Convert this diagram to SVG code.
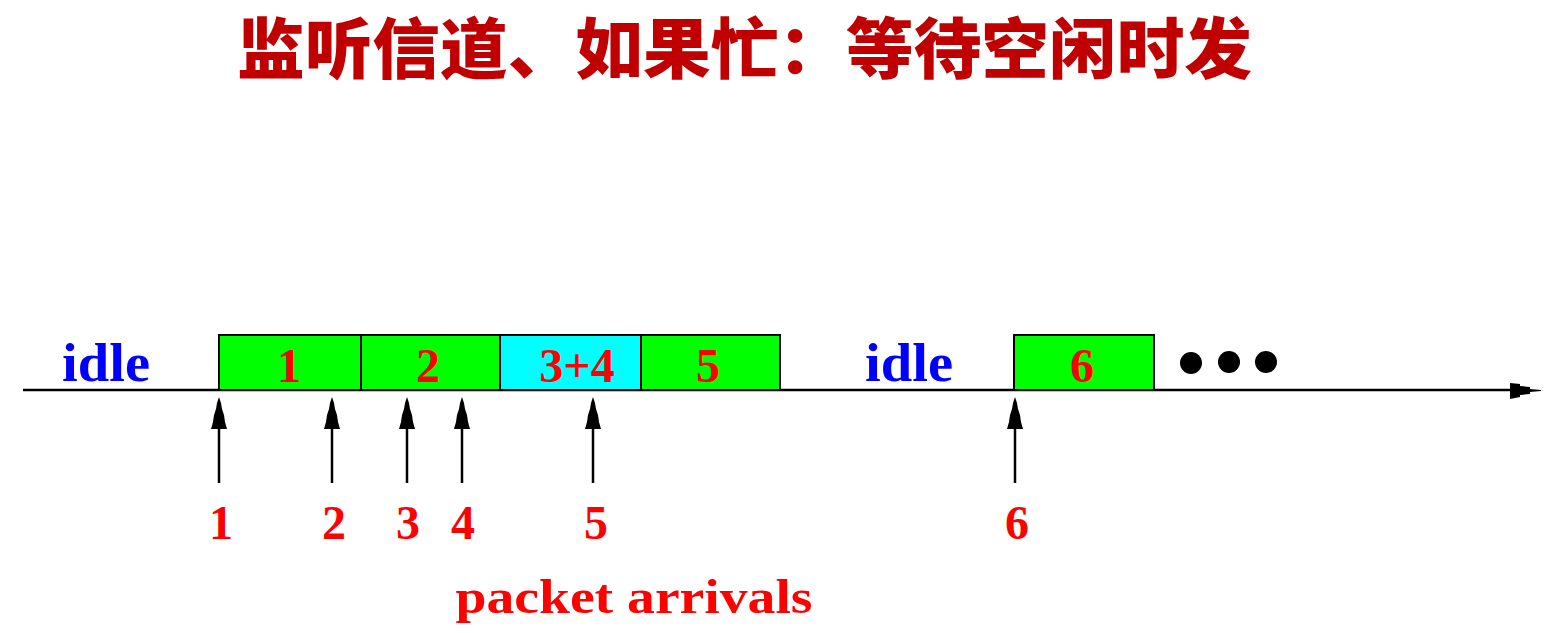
<svg xmlns="http://www.w3.org/2000/svg" width="1549" height="633" viewBox="0 0 1549 633">
<style>
.title{font-family:"Noto Sans CJK SC","Noto Sans",sans-serif;font-weight:900;fill:#C00000;font-size:66px}
.lbl{font-family:"Liberation Serif",serif;font-weight:bold;fill:#FF0000;font-size:48px;text-anchor:middle}
.idle{font-family:"Liberation Serif",serif;font-weight:bold;fill:#0000FF;font-size:55px}
.box{stroke:#000;stroke-width:2}
.g{fill:#00FF00}
.c{fill:#00FFFF}
.stem{stroke:#000;stroke-width:2.5;fill:none}
</style>
<defs>
<path id="ah" d="M0,0 L2,6 L3,12 L5,18 L6,25 L8,32 L-8,32 L-6,25 L-5,18 L-3,12 L-2,6 Z" fill="#000"/>
</defs>
<g id="title">
<text class="title" x="237" y="73" textLength="1015" lengthAdjust="spacingAndGlyphs">监听信道、如果忙：等待空闲时发</text>
</g>
<g id="connectors">
<line class="stem" x1="23" y1="390" x2="1512" y2="390"/>
<path d="M1510,383 L1520,384 L1520,386 L1530,387 L1530,389 L1541,390 L1541,391 L1530,392 L1530,394 L1520,395 L1520,397 L1510,399 Z" fill="#000"/>
<g id="arrow1"><line class="stem" x1="219" y1="425" x2="219" y2="483"/><use href="#ah" x="219" y="397"/></g>
<g id="arrow2"><line class="stem" x1="332" y1="425" x2="332" y2="483"/><use href="#ah" x="332" y="397"/></g>
<g id="arrow3"><line class="stem" x1="407" y1="425" x2="407" y2="483"/><use href="#ah" x="407" y="397"/></g>
<g id="arrow4"><line class="stem" x1="462" y1="425" x2="462" y2="483"/><use href="#ah" x="462" y="397"/></g>
<g id="arrow5"><line class="stem" x1="593" y1="425" x2="593" y2="483"/><use href="#ah" x="593" y="397"/></g>
<g id="arrow6"><line class="stem" x1="1015" y1="425" x2="1015" y2="483"/><use href="#ah" x="1015" y="397"/></g>
</g>
<g id="idle1"><text class="idle" x="62" y="381" textLength="88" lengthAdjust="spacingAndGlyphs">idle</text></g>
<g id="idle2"><text class="idle" x="865" y="381" textLength="88" lengthAdjust="spacingAndGlyphs">idle</text></g>
<g id="box1"><rect class="box g" x="219" y="335" width="142" height="55"/><text class="lbl" x="289" y="382">1</text></g>
<g id="box2"><rect class="box g" x="361" y="335" width="139" height="55"/><text class="lbl" x="428" y="382">2</text></g>
<g id="box34"><rect class="box c" x="500" y="335" width="141" height="55"/><text class="lbl" x="577" y="382">3+4</text></g>
<g id="box5"><rect class="box g" x="641" y="335" width="139" height="55"/><text class="lbl" x="708" y="382">5</text></g>
<g id="box6"><rect class="box g" x="1014" y="335" width="140" height="55"/><text class="lbl" x="1082" y="382">6</text></g>
<g id="dots">
<circle cx="1191" cy="363" r="11"/>
<circle cx="1229" cy="362" r="11"/>
<circle cx="1266" cy="362" r="11"/>
</g>
<g id="arrival-labels">
<text class="lbl" x="221" y="539">1</text>
<text class="lbl" x="334" y="539">2</text>
<text class="lbl" x="408" y="539">3</text>
<text class="lbl" x="463" y="539">4</text>
<text class="lbl" x="596" y="539">5</text>
<text class="lbl" x="1017" y="539">6</text>
<text class="lbl" x="634" y="613" font-size="52" textLength="357" lengthAdjust="spacingAndGlyphs">packet arrivals</text>
</g>
</svg>
